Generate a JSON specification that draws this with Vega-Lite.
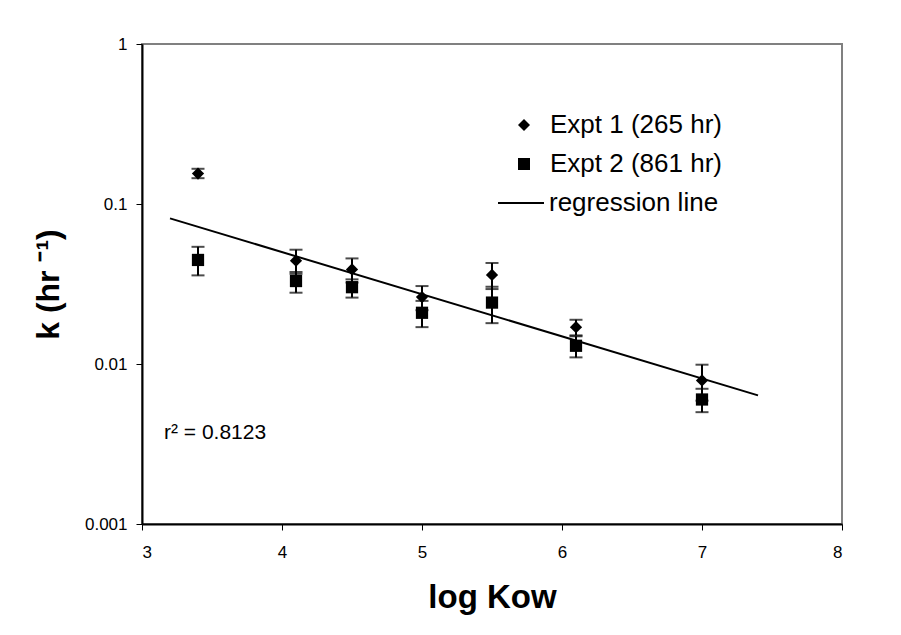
{
  "$schema": "https://vega.github.io/schema/vega-lite/v6.json",
  "width": 700,
  "height": 480,
  "autosize": "none",
  "padding": {"left": 142, "top": 44, "right": 59, "bottom": 111},
  "background": "white",
  "config": {
    "font": "Liberation Sans",
    "view": {"stroke": "#808080", "strokeWidth": 2},
    "axis": {"grid": false, "domainColor": "black", "domainWidth": 2, "tickColor": "black", "tickWidth": 1, "tickSize": 6, "labelColor": "black", "labelFontSize": 17, "titleColor": "black", "labelFont": "Liberation Sans", "titleFont": "Liberation Sans"}
  },
  "datasets": {
    "pts": [
      {"series": "Expt 1 (265 hr)", "logKow": 3.4, "k": 0.155, "lo": 0.145, "hi": 0.166},
      {"series": "Expt 1 (265 hr)", "logKow": 4.1, "k": 0.0442, "lo": 0.0366, "hi": 0.0518},
      {"series": "Expt 1 (265 hr)", "logKow": 4.5, "k": 0.039, "lo": 0.0323, "hi": 0.0457},
      {"series": "Expt 1 (265 hr)", "logKow": 5.0, "k": 0.0262, "lo": 0.0217, "hi": 0.0307},
      {"series": "Expt 1 (265 hr)", "logKow": 5.5, "k": 0.036, "lo": 0.0294, "hi": 0.0428},
      {"series": "Expt 1 (265 hr)", "logKow": 6.1, "k": 0.017, "lo": 0.0151, "hi": 0.0189},
      {"series": "Expt 1 (265 hr)", "logKow": 7.0, "k": 0.0079, "lo": 0.0059, "hi": 0.0099},
      {"series": "Expt 2 (861 hr)", "logKow": 3.4, "k": 0.0447, "lo": 0.0358, "hi": 0.054},
      {"series": "Expt 2 (861 hr)", "logKow": 4.1, "k": 0.033, "lo": 0.0279, "hi": 0.0376},
      {"series": "Expt 2 (861 hr)", "logKow": 4.5, "k": 0.0302, "lo": 0.026, "hi": 0.0338},
      {"series": "Expt 2 (861 hr)", "logKow": 5.0, "k": 0.0209, "lo": 0.017, "hi": 0.0248},
      {"series": "Expt 2 (861 hr)", "logKow": 5.5, "k": 0.0242, "lo": 0.018, "hi": 0.0304},
      {"series": "Expt 2 (861 hr)", "logKow": 6.1, "k": 0.013, "lo": 0.011, "hi": 0.0149},
      {"series": "Expt 2 (861 hr)", "logKow": 7.0, "k": 0.006, "lo": 0.005, "hi": 0.007}
    ],
    "reg": [
      {"logKow": 3.2, "k": 0.0813},
      {"logKow": 7.4, "k": 0.00637}
    ],
    "note": [
      {"label": "r² = 0.8123"}
    ]
  },
  "layer": [
    {
      "data": {"name": "pts"},
      "mark": {"type": "errorbar", "ticks": {"size": 13, "thickness": 2, "color": "black"}, "rule": {"strokeWidth": 2, "color": "black"}},
      "encoding": {
        "x": {"field": "logKow", "type": "quantitative", "title": "log Kow", "scale": {"domain": [3, 8]}},
        "y": {"field": "lo", "type": "quantitative", "title": "k (hr ⁻¹)", "scale": {"type": "log", "domain": [0.001, 1]}},
        "y2": {"field": "hi"},
        "detail": {"field": "series"}
      }
    },
    {
      "data": {"name": "reg"},
      "mark": {"type": "line", "strokeWidth": 2},
      "encoding": {
        "x": {"field": "logKow", "type": "quantitative", "title": "log Kow"},
        "y": {"field": "k", "type": "quantitative", "title": "k (hr ⁻¹)"},
        "stroke": {
          "datum": "regression line",
          "scale": {"range": ["black"]},
          "legend": {
            "orient": "none", "legendX": 355, "legendY": 135, "title": null, "padding": 0,
            "symbolType": "stroke", "symbolSize": 2116, "symbolStrokeWidth": 2, "symbolStrokeColor": "black",
            "labelFontSize": 26, "labelColor": "black", "labelOffset": 4, "labelLimit": 0, "labelFont": "Liberation Sans"
          }
        }
      }
    },
    {
      "data": {"name": "pts"},
      "mark": {"type": "point", "filled": true, "size": 150, "color": "black", "opacity": 1},
      "encoding": {
        "x": {"field": "logKow", "type": "quantitative", "title": "log Kow",
          "axis": {"values": [3, 4, 5, 6, 7, 8], "format": "d", "labelPadding": 14, "titleFontSize": 33, "titleFontWeight": "bold", "titleBaseline": "alphabetic", "titleY": 83, "titleX": 350}},
        "y": {"field": "k", "type": "quantitative", "title": "k (hr ⁻¹)",
          "axis": {"values": [0.001, 0.01, 0.1, 1], "format": "~g", "labelPadding": 9, "titleFontSize": 32, "titleFontWeight": "bold", "titleBaseline": "alphabetic", "titleX": -84, "titleY": 240, "titleAngle": -90}},
        "shape": {
          "field": "series", "type": "nominal",
          "scale": {"domain": ["Expt 1 (265 hr)", "Expt 2 (861 hr)"], "range": ["diamond", "square"]},
          "legend": {
            "orient": "none", "legendX": 369, "legendY": 68, "title": null, "padding": 0,
            "symbolSize": 144, "symbolFillColor": "black", "symbolStrokeWidth": 0,
            "labelFontSize": 26, "labelColor": "black", "labelOffset": 13, "rowPadding": 13, "labelLimit": 0, "labelFont": "Liberation Sans"
          }
        }
      }
    },
    {
      "data": {"name": "note"},
      "mark": {"type": "text", "align": "left", "baseline": "middle", "fontSize": 21, "color": "black", "font": "Liberation Sans"},
      "encoding": {
        "x": {"datum": 3.157, "type": "quantitative"},
        "y": {"datum": 0.0037, "type": "quantitative"},
        "text": {"field": "label"}
      }
    }
  ]
}
